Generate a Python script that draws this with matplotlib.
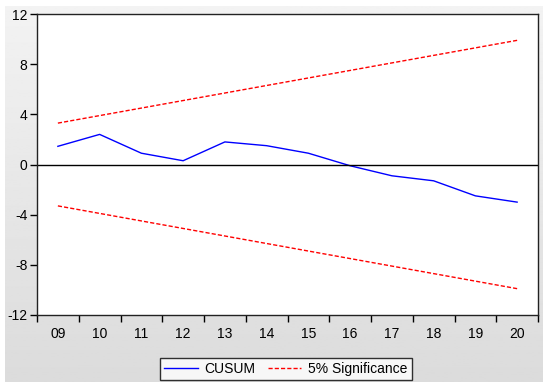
import matplotlib.pyplot as plt
import numpy as np

# CUSUM test results
years = ['09', '10', '11', '12', '13', '14', '15', '16', '17', '18', '19', '20']
cusum = [1.45, 2.4, 0.9, 0.3, 1.8, 1.5, 0.9, -0.1, -0.9, -1.3, -2.5, -3.0]
upper = [3.3, 3.9, 4.5, 5.1, 5.7, 6.3, 6.9, 7.5, 8.1, 8.7, 9.3, 9.9]
lower = [-3.3, -3.9, -4.5, -5.1, -5.7, -6.3, -6.9, -7.5, -8.1, -8.7, -9.3, -9.9]
yticks = [-12, -8, -4, 0, 4, 8, 12]

plt.rcParams['font.family'] = ['Liberation Sans', 'DejaVu Sans']

fig = plt.figure(figsize=(5.5, 3.89), dpi=100)
fig.patch.set_facecolor('white')

# gray gradient panel behind the chart (light at top, darker at bottom)
bg = fig.add_axes([5 / 550, 1 - 382 / 389, 538 / 550, 376 / 389])
grad = np.linspace(0.95, 0.86, 256).reshape(-1, 1)
bg.imshow(grad, aspect='auto', cmap='gray', vmin=0, vmax=1,
          extent=[0, 1, 0, 1], origin='upper')
bg.set_axis_off()

ax = fig.add_axes([37 / 550, 1 - 315 / 389, 501 / 550, 301 / 389])
ax.set_facecolor('white')
x = np.arange(len(years))

ax.plot(x, cusum, color='blue', lw=1.0, label='CUSUM')
ax.plot(x, upper, color='red', lw=1.0, ls=(0, (3, 1.5)), label='5% Significance')
ax.plot(x, lower, color='red', lw=1.0, ls=(0, (3, 1.5)))
ax.axhline(0, color='black', lw=1.0)

ax.set_xlim(-0.5, len(years) - 0.5)
ax.set_ylim(-12, 12)
ax.set_yticks(yticks)
ax.set_yticklabels([str(v) for v in yticks])
ax.set_xticks(x)
ax.set_xticklabels(years)
ax.set_xticks(np.arange(-0.5, len(years) + 0.5, 1), minor=True)
ax.tick_params(axis='x', which='major', length=0, pad=9, labelsize=10)
ax.tick_params(axis='x', which='minor', length=5, width=1, direction='out')
ax.tick_params(axis='y', length=5, width=1, direction='out', labelsize=10, pad=2)
for s in ax.spines.values():
    s.set_color('#222222')
    s.set_linewidth(1.0)

leg = fig.legend(loc='center', bbox_to_anchor=(286 / 550, 1 - 369 / 389), ncol=2,
                 frameon=True, fancybox=False, fontsize=10, handlelength=2.4,
                 columnspacing=0.9, borderpad=0.3, handletextpad=0.5,
                 borderaxespad=0)
leg.get_frame().set_edgecolor('black')
leg.get_frame().set_linewidth(1.0)

fig.savefig('out.png', dpi=100)
